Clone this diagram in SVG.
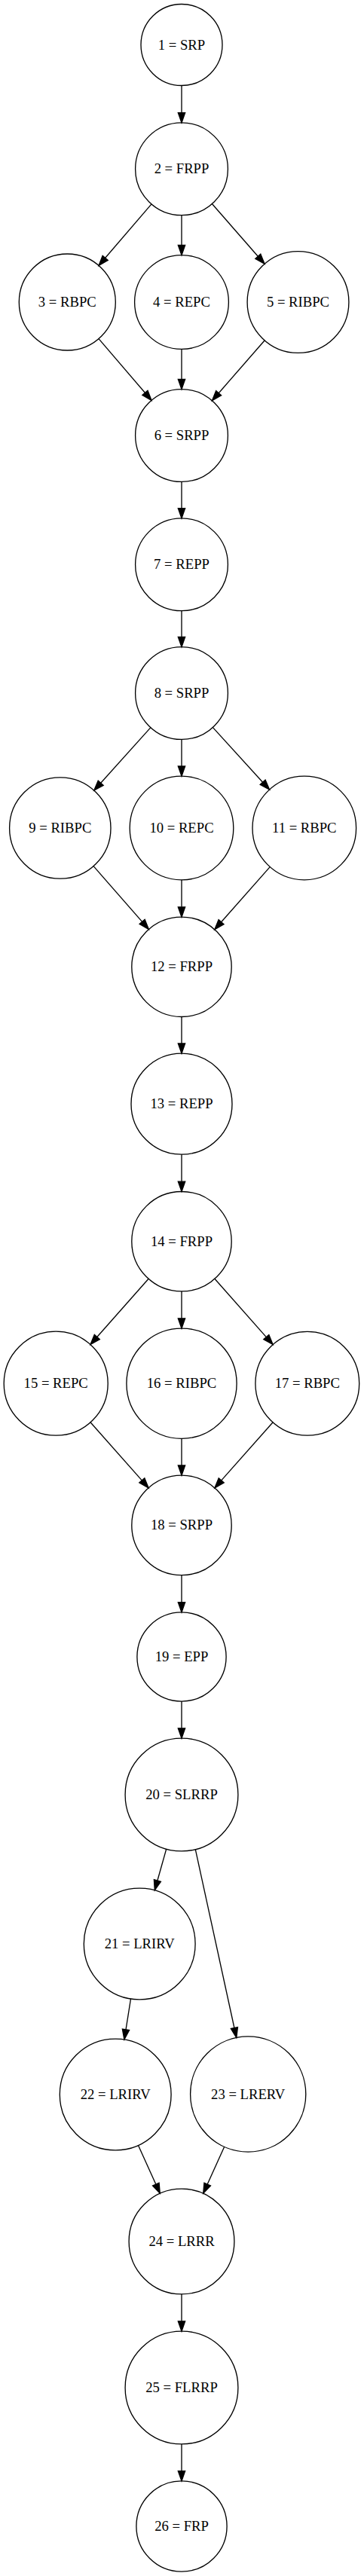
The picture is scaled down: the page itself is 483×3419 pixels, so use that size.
<svg xmlns="http://www.w3.org/2000/svg" width="483" height="3419" viewBox="0 0 483 3419">
<style>
.node circle{fill:none;stroke:#000;stroke-width:1.33}
.node text{font-family:"Liberation Serif","Times New Roman",serif;font-size:18.67px;text-anchor:middle;fill:#000}
.edges line{stroke:#000;stroke-width:1.33;fill:none;marker-end:url(#arrow)}
</style>
<defs>
<marker id="arrow" markerUnits="userSpaceOnUse" orient="auto" refX="0" refY="0" markerWidth="20" markerHeight="20" overflow="visible">
<path d="M0,-4.67 L13.33,0 L0,4.67 Z" fill="#000" stroke="#000" stroke-width="1.33"/>
</marker>
</defs>
<rect x="0" y="0" width="483" height="3419" fill="#fff"/>
<g class="edges" id="connectors">
<line x1="241" y1="113.5" x2="241" y2="149.6"/>
<line x1="201.0" y1="270.9" x2="139.7" y2="342.3"/>
<line x1="241" y1="285.7" x2="241" y2="325.3"/>
<line x1="281.4" y1="270.5" x2="342.3" y2="340.2"/>
<line x1="131.0" y1="449.6" x2="192.4" y2="521.3"/>
<line x1="241" y1="463.4" x2="241" y2="503.3"/>
<line x1="351.2" y1="451.8" x2="290.2" y2="521.7"/>
<line x1="241" y1="639.4" x2="241" y2="674.6"/>
<line x1="241" y1="810.7" x2="241" y2="845.3"/>
<line x1="199.9" y1="965.6" x2="133.7" y2="1039.2"/>
<line x1="241" y1="981.4" x2="241" y2="1016.9"/>
<line x1="282.3" y1="965.4" x2="348.6" y2="1038.2"/>
<line x1="124.1" y1="1149.6" x2="188.6" y2="1223.4"/>
<line x1="241" y1="1167.8" x2="241" y2="1203.8"/>
<line x1="358.2" y1="1150.6" x2="293.6" y2="1223.7"/>
<line x1="241" y1="1349.5" x2="241" y2="1384.9"/>
<line x1="241" y1="1532.2" x2="241" y2="1568.2"/>
<line x1="197.1" y1="1697.3" x2="128.8" y2="1774.5"/>
<line x1="241" y1="1713.9" x2="241" y2="1749.8"/>
<line x1="284.9" y1="1697.3" x2="353.3" y2="1774.6"/>
<line x1="120.0" y1="1887.8" x2="188.3" y2="1964.9"/>
<line x1="241" y1="1909.3" x2="241" y2="1944.9"/>
<line x1="362.1" y1="1887.8" x2="293.7" y2="1964.9"/>
<line x1="241" y1="2090.6" x2="241" y2="2126.6"/>
<line x1="241" y1="2258.1" x2="241" y2="2293.8"/>
<line x1="220.7" y1="2454.1" x2="208.9" y2="2496.0"/>
<line x1="259.3" y1="2454.6" x2="310.9" y2="2691.5"/>
<line x1="173.5" y1="2653.0" x2="167.0" y2="2693.8"/>
<line x1="183.5" y1="2847.4" x2="206.8" y2="2899.1"/>
<line x1="297.7" y1="2849.3" x2="275.2" y2="2899.1"/>
<line x1="241" y1="3044.9" x2="241" y2="3080.8"/>
<line x1="241" y1="3243.9" x2="241" y2="3279.6"/>
</g>
<g class="node" id="node1"><circle cx="241" cy="59.5" r="54"/><text x="241" y="65.5">1 = SRP</text></g>
<g class="node" id="node2"><circle cx="241" cy="224.3" r="61.4"/><text x="241" y="230.3">2 = FRPP</text></g>
<g class="node" id="node3"><circle cx="89.3" cy="401" r="64"/><text x="89.3" y="407">3 = RBPC</text></g>
<g class="node" id="node4"><circle cx="241" cy="401" r="62.4"/><text x="241" y="407">4 = REPC</text></g>
<g class="node" id="node5"><circle cx="395.5" cy="401" r="67.4"/><text x="395.5" y="407">5 = RIBPC</text></g>
<g class="node" id="node6"><circle cx="241" cy="578" r="61.4"/><text x="241" y="584">6 = SRPP</text></g>
<g class="node" id="node7"><circle cx="241" cy="749.3" r="61.4"/><text x="241" y="755.3">7 = REPP</text></g>
<g class="node" id="node8"><circle cx="241" cy="920" r="61.4"/><text x="241" y="926">8 = SRPP</text></g>
<g class="node" id="node9"><circle cx="79.8" cy="1099" r="67.2"/><text x="79.8" y="1105">9 = RIBPC</text></g>
<g class="node" id="node10"><circle cx="241" cy="1099" r="68.8"/><text x="241" y="1105">10 = REPC</text></g>
<g class="node" id="node11"><circle cx="403.8" cy="1099" r="68.8"/><text x="403.8" y="1105">11 = RBPC</text></g>
<g class="node" id="node12"><circle cx="241" cy="1283.3" r="66.2"/><text x="241" y="1289.3">12 = FRPP</text></g>
<g class="node" id="node13"><circle cx="241" cy="1465.2" r="67"/><text x="241" y="1471.2">13 = REPP</text></g>
<g class="node" id="node14"><circle cx="241" cy="1647.7" r="66.2"/><text x="241" y="1653.7">14 = FRPP</text></g>
<g class="node" id="node15"><circle cx="74.2" cy="1836.2" r="69"/><text x="74.2" y="1842.2">15 = REPC</text></g>
<g class="node" id="node16"><circle cx="241" cy="1836.2" r="73.1"/><text x="241" y="1842.2">16 = RIBPC</text></g>
<g class="node" id="node17"><circle cx="407.8" cy="1836.2" r="68.9"/><text x="407.8" y="1842.2">17 = RBPC</text></g>
<g class="node" id="node18"><circle cx="241" cy="2024.4" r="66.2"/><text x="241" y="2030.4">18 = SRPP</text></g>
<g class="node" id="node19"><circle cx="241" cy="2199" r="59.1"/><text x="241" y="2205">19 = EPP</text></g>
<g class="node" id="node20"><circle cx="241" cy="2382" r="74.9"/><text x="241" y="2388">20 = SLRRP</text></g>
<g class="node" id="node21"><circle cx="185.2" cy="2580" r="73.9"/><text x="185.2" y="2586">21 = LRIRV</text></g>
<g class="node" id="node22"><circle cx="153.2" cy="2780" r="73.9"/><text x="153.2" y="2786">22 = LRIRV</text></g>
<g class="node" id="node23"><circle cx="329.2" cy="2779.5" r="76.6"/><text x="329.2" y="2785.5">23 = LRERV</text></g>
<g class="node" id="node24"><circle cx="241" cy="2975" r="69.9"/><text x="241" y="2981">24 = LRRR</text></g>
<g class="node" id="node25"><circle cx="241" cy="3169" r="74.9"/><text x="241" y="3175">25 = FLRRP</text></g>
<g class="node" id="node26"><circle cx="241" cy="3353" r="60.1"/><text x="241" y="3359">26 = FRP</text></g>
</svg>
